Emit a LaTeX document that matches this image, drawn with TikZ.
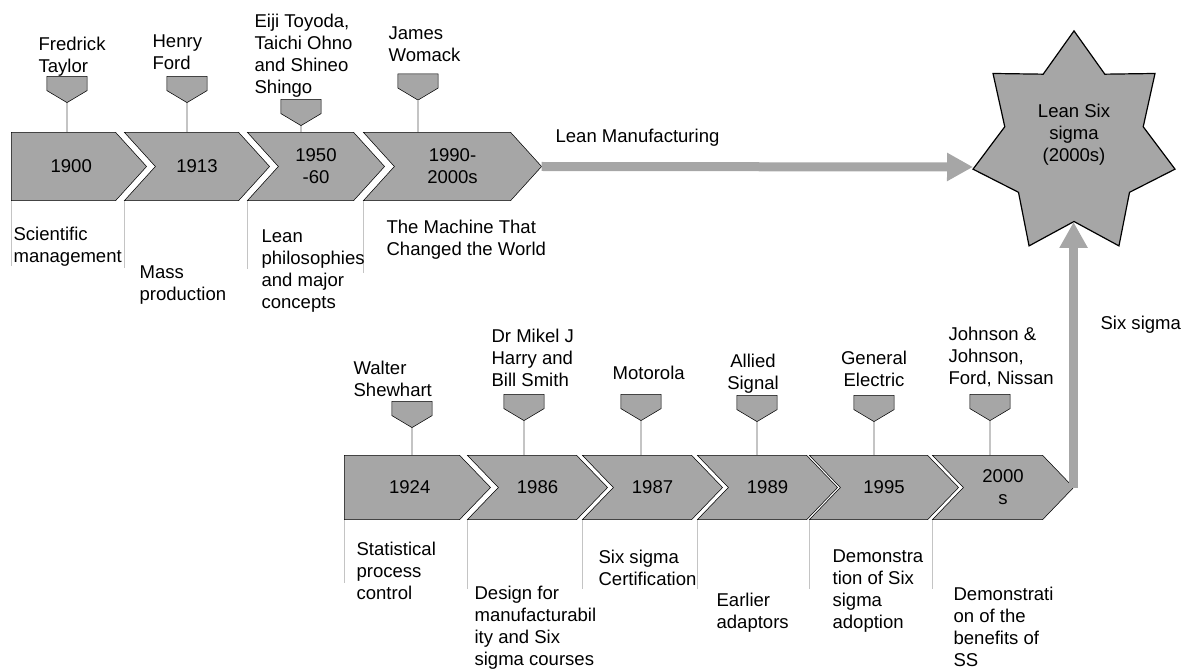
\documentclass[tikz,border=0pt]{standalone}
\usepackage{fontspec}
\setmainfont{Liberation Sans}
\usetikzlibrary{arrows.meta, backgrounds}
\definecolor{chevgray}{HTML}{A6A6A6}
\definecolor{guidegray}{HTML}{C4C4C4}

\begin{document}
\begin{tikzpicture}[x=0.75pt, y=-0.75pt, line width=0.9pt,
    txt/.style={font=\fontsize{13.9}{16.5}\selectfont, inner sep=0pt, align=left, anchor=north west},
    chev/.style={inner sep=0pt, minimum width=#1*0.75pt, align=center, font=\fontsize{13.9}{16.5}\selectfont},
    toprow/.style={minimum height=50.25pt},
    lowrow/.style={minimum height=47.25pt},
    pinbox/.style={inner sep=0pt, minimum width=29.25pt, minimum height=18.75pt},
    shapebox/.style={draw=black, fill=chevgray, line join=miter},
    guide/.style={draw=guidegray, line width=0.8pt},
    flow/.style={draw=chevgray, line width=6.75pt, -{Triangle[length=19.5pt, width=20pt]}}]
    \useasboundingbox (0,0) rectangle (1185,670);

    \node[chev=118.5, toprow] (c1900) at (71.25,166.5) {1900};
    \node[chev=113, toprow] (c1913) at (197,166.5) {1913};
    \node[chev=105, toprow] (c1950) at (316,166.5) {1950\\-60};
    \node[chev=146, toprow] (c1990) at (452.5,166.5) {1990-\\2000s};

    \node[chev=129.5, lowrow] (c1924) at (409.75,487.5) {1924};
    \node[chev=108, lowrow] (c1986) at (537.5,487.5) {1986};
    \node[chev=108, lowrow] (c1987) at (652.5,487.5) {1987};
    \node[chev=108, lowrow] (c1989) at (767.5,487.5) {1989};
    \node[chev=117, lowrow] (c1995) at (884,487.5) {1995};
    \node[chev=109, lowrow] (c2000) at (1003,487.5) {2000\\s};

    \node[pinbox] (p1900) at (67,89.5) {};
    \node[pinbox] (p1913) at (187,89.5) {};
    \node[pinbox] (p1950) at (301,112.5) {};
    \node[pinbox] (p1990) at (418,87) {};
    \node[pinbox] (p1924) at (412,414.5) {};
    \node[pinbox] (p1986) at (524,407.5) {};
    \node[pinbox] (p1987) at (641,407.5) {};
    \node[pinbox] (p1989) at (757,408.5) {};
    \node[pinbox] (p1995) at (874,408.5) {};
    \node[pinbox] (p2000) at (990,407.5) {};

    \begin{scope}[on background layer]
        \foreach \c in {c1900,c1924}
            \draw[shapebox] (\c.north west) -- ([xshift=-11.6pt]\c.north east) -- ([xshift=11.6pt]\c.east)
                -- ([xshift=-11.6pt]\c.south east) -- (\c.south west) -- cycle;
        \foreach \c in {c1913,c1950,c1990,c1986,c1987,c1989,c1995,c2000}
            \draw[shapebox] ([xshift=-11.6pt]\c.north west) -- ([xshift=-11.6pt]\c.north east) -- ([xshift=11.6pt]\c.east)
                -- ([xshift=-11.6pt]\c.south east) -- ([xshift=-11.6pt]\c.south west) -- ([xshift=11.6pt]\c.west) -- cycle;
        \foreach \y in {1900,1913,1950,1990,1924,1986,1987,1989,1995,2000}
            \draw[shapebox] (p\y.north west) -- (p\y.north east) -- ([yshift=9pt]p\y.south east) -- (p\y.south)
                -- ([yshift=9pt]p\y.south west) -- cycle;
    \end{scope}

    \foreach \y in {1900,1913,1950,1990,1924,1986,1987,1989,1995,2000}
        \draw[guide] (p\y.south) -- (p\y.south |- c\y.north);
    \foreach \y/\l in {1900/65,1924/63}
        \draw[guide] (c\y.south west) -- ++(0,\l);
    \foreach \y/\l in {1913/67,1950/68,1990/72,1986/69,1987/69,1989/69,1995/69,2000/69}
        \draw[guide] ([xshift=-11.6pt]c\y.south west) -- ++(0,\l);

    \node[txt] (tFT) at (38,36) {Fredrick\\Taylor};
    \node[txt] (tHF) at (152,34) {Henry\\Ford};
    \node[txt] (tTO) at (254,13) {Eiji Toyoda,\\Taichi Ohno\\and Shineo\\Shingo};
    \node[txt] (tJW) at (388,26) {James\\Womack};

    \node[txt] (bSM) at (13,226) {Scientific\\management};
    \node[txt] (bMP) at (139,265) {Mass\\production};
    \node[txt] (bLP) at (261,229) {Lean\\philosophies\\and major\\concepts};
    \node[txt] (bMC) at (386,219) {The Machine That\\Changed the World};

    \node[txt] (aWS) at (353,360) {Walter\\Shewhart};
    \node[txt] (aMH) at (491,328) {Dr Mikel J\\Harry and\\Bill Smith};
    \node[txt] (aMo) at (612,365) {Motorola};
    \node[txt, align=center, anchor=north] (aAS) at (753,353) {Allied\\Signal};
    \node[txt, align=center, anchor=north] (aGE) at (874,350) {General\\Electric};
    \node[txt] (aJJ) at (948,326) {Johnson \&\\Johnson,\\Ford, Nissan};

    \node[txt] (dSP) at (356,541) {Statistical\\process\\control};
    \node[txt] (dDM) at (474,585) {Design for\\manufacturabil\\ity and Six\\sigma courses};
    \node[txt] (dSC) at (598,549) {Six sigma\\Certification};
    \node[txt] (dEA) at (716,592) {Earlier\\adaptors};
    \node[txt] (dDS) at (832,549) {Demonstra\\tion of Six\\sigma\\adoption};
    \node[txt] (dDB) at (953,586) {Demonstrati\\on of the\\benefits of\\SS};

    \draw[shapebox, shift={(1074,144)}] (270:103.6 and 113.1)
        \foreach \k in {1,...,6} { -- ({270+(2*\k-1)*180/7}:71 and 77.5) -- ({270+\k*360/7}:103.6 and 113.1) }
        -- ({270+13*180/7}:71 and 77.5) -- cycle;
    \node[txt, align=center, anchor=center] (lss) at (1074,135) {Lean Six\\sigma\\(2000s)};
    \coordinate (lssW) at (973,167);
    \coordinate (lssS) at (1074,222);

    \draw[flow] ([xshift=11.6pt]c1990.east) -- (lssW);
    \draw[flow] ([xshift=11.6pt]c2000.east) -- ([xshift=11.6pt]c2000.east |- lssS);
    \node[txt] (lm) at (555,128) {Lean Manufacturing};
    \node[txt] (ss) at (1100,315) {Six sigma};
\end{tikzpicture}
\end{document}
